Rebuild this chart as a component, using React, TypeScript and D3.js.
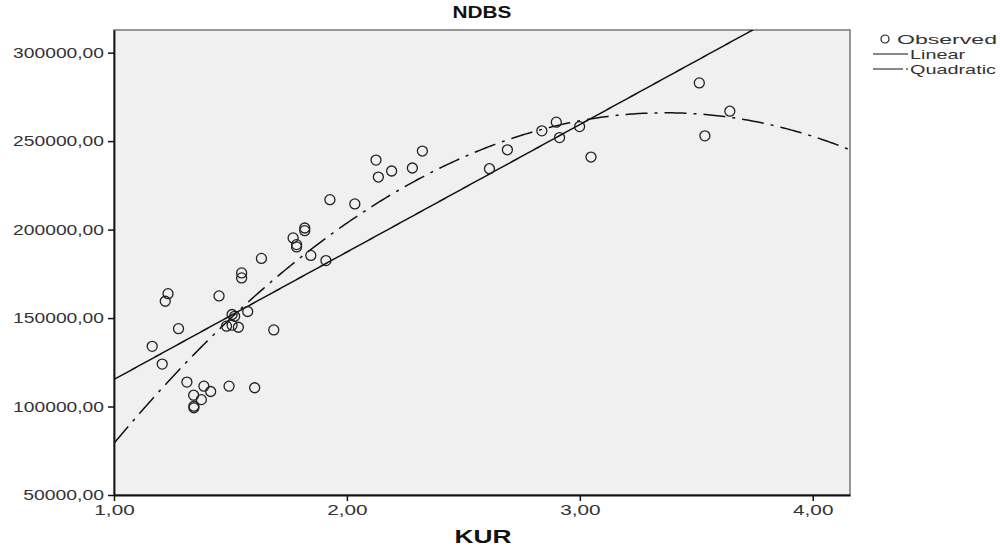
import React, { useEffect, useRef } from 'react';
import * as d3 from 'd3';

// observed points (KUR, NDBS)
const kur = [
  1.164, 1.207, 1.220, 1.232, 1.277, 1.313, 1.386, 1.415, 1.342, 1.375,
  1.343, 1.343, 1.494, 1.604, 1.451, 1.548, 1.548, 1.633, 1.507, 1.518,
  1.483, 1.507, 1.534, 1.574, 1.686, 1.769, 1.784, 1.784, 1.819, 1.819,
  1.845, 1.910, 1.927, 2.034, 2.125, 2.135, 2.192, 2.281, 2.324, 2.612,
  2.689, 2.837, 2.899, 2.913, 2.999, 3.048, 3.513, 3.537, 3.644,
];
const ndbs = [
  134000, 124000, 159500, 163800, 144000, 113800, 111500, 108500, 106400, 103900,
  100200, 99300, 111500, 110600, 162500, 175500, 172700, 183700, 152000, 151000,
  145400, 146000, 144800, 153700, 143300, 195300, 191500, 190200, 200900, 199400,
  185400, 182500, 216900, 214500, 239300, 229700, 233100, 234800, 244400, 234400,
  245100, 255800, 260700, 252000, 258200, 241000, 282900, 253000, 266900,
];

// fitted curves: linear b0 + b1*x, quadratic q0 + q1*x + q2*x^2
const linearCoef = [43270, 72030];
const quadCoef = [-111900, 224410, -33315];

const xTicks = [1, 2, 3, 4];
const yTicks = [50000, 100000, 150000, 200000, 250000, 300000];
const legendItems = ['Observed', 'Linear', 'Quadratic'];

const fmt = (v: number) => v.toFixed(2).replace('.', ',');
const FONT = '"Liberation Sans", Arial, sans-serif';

const ScatterFit = () => {
  const svgRef = useRef<SVGSVGElement>(null);

  useEffect(() => {
    const margin = { top: 30, right: 150, bottom: 55, left: 114 };
    const width = 1000 - margin.left - margin.right;
    const height = 550 - margin.top - margin.bottom;

    const root = d3.select(svgRef.current);
    root.selectAll('*').remove();
    root.attr('width', 1000).attr('height', 550).style('font-family', FONT);

    const svg = root.append('g')
      .attr('transform', `translate(${margin.left},${margin.top})`);

    const x = d3.scaleLinear().domain([1, 4.16]).range([0, width]);
    const y = d3.scaleLinear().domain([50000, 312800]).range([height, 0]);

    svg.append('defs').append('clipPath').attr('id', 'plot-clip')
      .append('rect').attr('width', width).attr('height', height);

    // plot background
    svg.append('rect')
      .attr('width', width).attr('height', height)
      .attr('fill', '#f0f0f0')
      .attr('stroke', '#777').attr('stroke-width', 1.5);

    const plot = svg.append('g').attr('clip-path', 'url(#plot-clip)');

    const xs = d3.range(1, 4.161, 0.01);
    const linear = d3.line<number>()
      .x(d => x(d))
      .y(d => y(linearCoef[0] + linearCoef[1] * d));
    const quad = d3.line<number>()
      .x(d => x(d))
      .y(d => y(quadCoef[0] + quadCoef[1] * d + quadCoef[2] * d * d));

    plot.append('path').datum(xs).attr('d', linear)
      .attr('fill', 'none').attr('stroke', '#111').attr('stroke-width', 1.5);
    plot.append('path').datum(xs).attr('d', quad)
      .attr('fill', 'none').attr('stroke', '#111').attr('stroke-width', 1.5)
      .attr('stroke-dasharray', '22 7 3 7');

    plot.selectAll('circle')
      .data(kur)
      .enter().append('circle')
      .attr('cx', d => x(d))
      .attr('cy', (d, i) => y(ndbs[i]))
      .attr('r', 5)
      .attr('fill', 'none')
      .attr('stroke', '#222')
      .attr('stroke-width', 1.3);

    // axes
    const xAxis = d3.axisBottom(x).tickValues(xTicks).tickFormat(d => fmt(+d))
      .tickSizeInner(6).tickSizeOuter(0).tickPadding(4);
    const yAxis = d3.axisLeft(y).tickValues(yTicks).tickFormat(d => fmt(+d))
      .tickSizeInner(6).tickSizeOuter(0).tickPadding(4);

    const gx = svg.append('g').attr('transform', `translate(0,${height})`).call(xAxis);
    const gy = svg.append('g').call(yAxis);
    [gx, gy].forEach(g => {
      g.select('.domain').attr('stroke', '#111').attr('stroke-width', 1.8);
      g.selectAll('.tick line').attr('stroke', '#111').attr('stroke-width', 1.5);
      g.selectAll<SVGTextElement, number>('.tick text')
        .attr('fill', '#333')
        .style('font-size', '14px')
        .style('font-family', FONT)
        .attr('textLength', function () {
          return (this.textContent || '').length * 10.1;
        })
        .attr('lengthAdjust', 'spacingAndGlyphs');
    });

    // titles
    svg.append('text')
      .attr('x', width / 2).attr('y', -12)
      .attr('text-anchor', 'middle')
      .style('font-size', '17px').style('font-weight', 'bold')
      .attr('fill', '#111')
      .attr('textLength', 59).attr('lengthAdjust', 'spacingAndGlyphs')
      .text('NDBS');
    svg.append('text')
      .attr('x', width / 2 + 1).attr('y', height + 48)
      .attr('text-anchor', 'middle')
      .style('font-size', '18px').style('font-weight', 'bold')
      .attr('fill', '#111')
      .attr('textLength', 57).attr('lengthAdjust', 'spacingAndGlyphs')
      .text('KUR');

    // legend
    const legendLen = [100, 55, 86];
    const legend = root.append('g').attr('transform', 'translate(873,39)');
    legendItems.forEach((name, i) => {
      const row = legend.append('g').attr('transform', `translate(0,${i * 15})`);
      if (i === 0) {
        row.append('circle').attr('cx', 12).attr('cy', 0).attr('r', 4)
          .attr('fill', 'none').attr('stroke', '#222').attr('stroke-width', 1.2);
      } else {
        row.append('line').attr('x1', 0).attr('x2', 35).attr('y1', 0).attr('y2', 0)
          .attr('stroke', '#111').attr('stroke-width', 1.2)
          .attr('stroke-dasharray', i === 2 ? '30 3 2 3' : null);
      }
      row.append('text')
        .attr('x', i === 0 ? 24 : 37).attr('y', 4.5)
        .style('font-size', '13px')
        .attr('fill', '#333')
        .attr('textLength', legendLen[i]).attr('lengthAdjust', 'spacingAndGlyphs')
        .text(name);
    });
  }, []);

  return <svg ref={svgRef}></svg>;
};

export default function App() {
  return (
    <div style={{ position: 'absolute', left: 0, top: 0 }}>
      <ScatterFit />
    </div>
  );
}
